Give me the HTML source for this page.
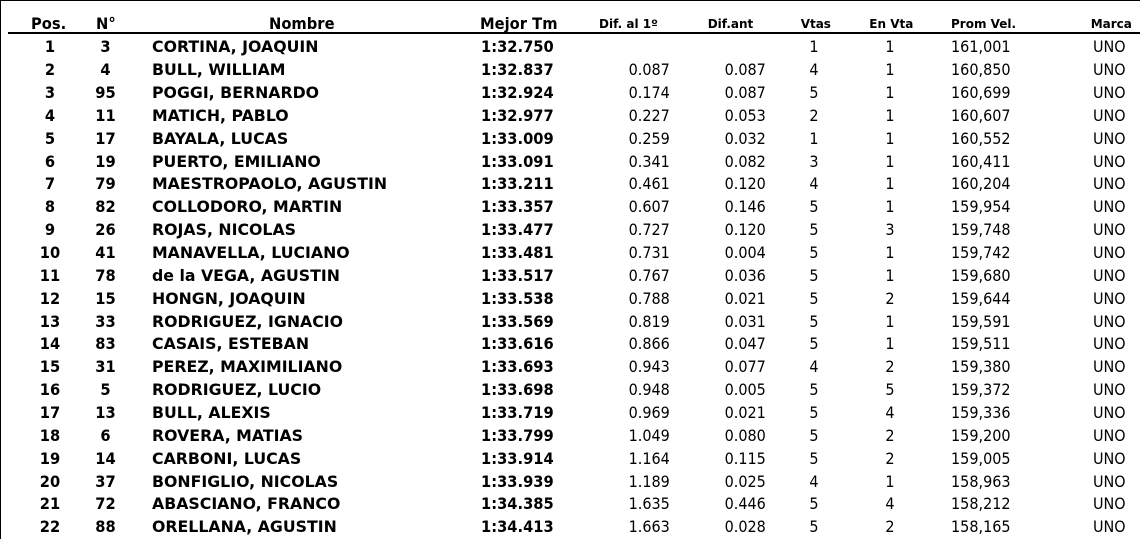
<!DOCTYPE html>
<html><head><meta charset="utf-8">
<style>
html,body{margin:0;padding:0;background:#fff;}
body{width:1140px;height:539px;position:relative;overflow:hidden;font-family:"DejaVu Sans","Liberation Sans",sans-serif;color:#000;}
.bl{position:absolute;left:0;top:0;width:1px;height:539px;background:#000;}
.bt{position:absolute;left:0;top:0;width:1140px;height:1px;background:#000;}
.hl{position:absolute;left:8px;top:32px;width:1132px;height:2px;background:#000;}
.h{position:absolute;font-weight:bold;white-space:nowrap;line-height:20px;transform-origin:left center;}
.h1{font-size:16px;top:14px;transform:scaleX(.92);}
.h2{font-size:12px;top:13.6px;}
.r{position:absolute;left:0;width:1140px;height:22.857px;line-height:22.857px;font-size:16px;}
.r span{position:absolute;top:0;white-space:nowrap;transform:scaleX(.9);transform-origin:left center;}
.r .p,.r .n,.r .nm,.r .t{font-weight:bold;}
.r .p{left:20px;width:60px;text-align:center;transform:scaleX(.917);transform-origin:center center;}
.r .n{left:80px;width:51px;text-align:center;transform:scaleX(.917);transform-origin:center center;}
.r .nm{left:152px;transform:scaleX(.985);}
.r .t{left:481px;transform:scaleX(.917);}
.r .d1{right:470.5px;transform-origin:right center;}
.r .d2{right:374px;transform-origin:right center;}
.r .v{left:789px;width:50px;text-align:center;transform-origin:center center;}
.r .e{left:865px;width:50px;text-align:center;transform-origin:center center;}
.r .pv{left:951px;}
.r .m{left:1092.7px;}
</style></head><body>
<div class="bt"></div><div class="bl"></div><div class="hl"></div>
<div class="h h1" style="left:31px">Pos.</div>
<div class="h h1" style="left:95.7px">N°</div>
<div class="h h1" style="left:269.3px">Nombre</div>
<div class="h h1" style="left:480px">Mejor Tm</div>
<div class="h h2" style="left:599px">Dif. al 1º</div>
<div class="h h2" style="left:707.7px">Dif.ant</div>
<div class="h h2" style="left:800.7px">Vtas</div>
<div class="h h2" style="left:869.3px">En Vta</div>
<div class="h h2" style="left:951px">Prom Vel.</div>
<div class="h h2" style="left:1090.7px">Marca</div>

<div class="r" style="top:36.33px"><span class="p">1</span><span class="n">3</span><span class="nm">CORTINA, JOAQUIN</span><span class="t">1:32.750</span><span class="v">1</span><span class="e">1</span><span class="pv">161,001</span><span class="m">UNO</span></div>
<div class="r" style="top:59.19px"><span class="p">2</span><span class="n">4</span><span class="nm">BULL, WILLIAM</span><span class="t">1:32.837</span><span class="d1">0.087</span><span class="d2">0.087</span><span class="v">4</span><span class="e">1</span><span class="pv">160,850</span><span class="m">UNO</span></div>
<div class="r" style="top:82.04px"><span class="p">3</span><span class="n">95</span><span class="nm">POGGI, BERNARDO</span><span class="t">1:32.924</span><span class="d1">0.174</span><span class="d2">0.087</span><span class="v">5</span><span class="e">1</span><span class="pv">160,699</span><span class="m">UNO</span></div>
<div class="r" style="top:104.9px"><span class="p">4</span><span class="n">11</span><span class="nm">MATICH, PABLO</span><span class="t">1:32.977</span><span class="d1">0.227</span><span class="d2">0.053</span><span class="v">2</span><span class="e">1</span><span class="pv">160,607</span><span class="m">UNO</span></div>
<div class="r" style="top:127.76px"><span class="p">5</span><span class="n">17</span><span class="nm">BAYALA, LUCAS</span><span class="t">1:33.009</span><span class="d1">0.259</span><span class="d2">0.032</span><span class="v">1</span><span class="e">1</span><span class="pv">160,552</span><span class="m">UNO</span></div>
<div class="r" style="top:150.62px"><span class="p">6</span><span class="n">19</span><span class="nm">PUERTO, EMILIANO</span><span class="t">1:33.091</span><span class="d1">0.341</span><span class="d2">0.082</span><span class="v">3</span><span class="e">1</span><span class="pv">160,411</span><span class="m">UNO</span></div>
<div class="r" style="top:173.47px"><span class="p">7</span><span class="n">79</span><span class="nm">MAESTROPAOLO, AGUSTIN</span><span class="t">1:33.211</span><span class="d1">0.461</span><span class="d2">0.120</span><span class="v">4</span><span class="e">1</span><span class="pv">160,204</span><span class="m">UNO</span></div>
<div class="r" style="top:196.33px"><span class="p">8</span><span class="n">82</span><span class="nm">COLLODORO, MARTIN</span><span class="t">1:33.357</span><span class="d1">0.607</span><span class="d2">0.146</span><span class="v">5</span><span class="e">1</span><span class="pv">159,954</span><span class="m">UNO</span></div>
<div class="r" style="top:219.19px"><span class="p">9</span><span class="n">26</span><span class="nm">ROJAS, NICOLAS</span><span class="t">1:33.477</span><span class="d1">0.727</span><span class="d2">0.120</span><span class="v">5</span><span class="e">3</span><span class="pv">159,748</span><span class="m">UNO</span></div>
<div class="r" style="top:242.04px"><span class="p">10</span><span class="n">41</span><span class="nm">MANAVELLA, LUCIANO</span><span class="t">1:33.481</span><span class="d1">0.731</span><span class="d2">0.004</span><span class="v">5</span><span class="e">1</span><span class="pv">159,742</span><span class="m">UNO</span></div>
<div class="r" style="top:264.9px"><span class="p">11</span><span class="n">78</span><span class="nm">de la VEGA, AGUSTIN</span><span class="t">1:33.517</span><span class="d1">0.767</span><span class="d2">0.036</span><span class="v">5</span><span class="e">1</span><span class="pv">159,680</span><span class="m">UNO</span></div>
<div class="r" style="top:287.76px"><span class="p">12</span><span class="n">15</span><span class="nm">HONGN, JOAQUIN</span><span class="t">1:33.538</span><span class="d1">0.788</span><span class="d2">0.021</span><span class="v">5</span><span class="e">2</span><span class="pv">159,644</span><span class="m">UNO</span></div>
<div class="r" style="top:310.61px"><span class="p">13</span><span class="n">33</span><span class="nm">RODRIGUEZ, IGNACIO</span><span class="t">1:33.569</span><span class="d1">0.819</span><span class="d2">0.031</span><span class="v">5</span><span class="e">1</span><span class="pv">159,591</span><span class="m">UNO</span></div>
<div class="r" style="top:333.47px"><span class="p">14</span><span class="n">83</span><span class="nm">CASAIS, ESTEBAN</span><span class="t">1:33.616</span><span class="d1">0.866</span><span class="d2">0.047</span><span class="v">5</span><span class="e">1</span><span class="pv">159,511</span><span class="m">UNO</span></div>
<div class="r" style="top:356.33px"><span class="p">15</span><span class="n">31</span><span class="nm">PEREZ, MAXIMILIANO</span><span class="t">1:33.693</span><span class="d1">0.943</span><span class="d2">0.077</span><span class="v">4</span><span class="e">2</span><span class="pv">159,380</span><span class="m">UNO</span></div>
<div class="r" style="top:379.19px"><span class="p">16</span><span class="n">5</span><span class="nm">RODRIGUEZ, LUCIO</span><span class="t">1:33.698</span><span class="d1">0.948</span><span class="d2">0.005</span><span class="v">5</span><span class="e">5</span><span class="pv">159,372</span><span class="m">UNO</span></div>
<div class="r" style="top:402.04px"><span class="p">17</span><span class="n">13</span><span class="nm">BULL, ALEXIS</span><span class="t">1:33.719</span><span class="d1">0.969</span><span class="d2">0.021</span><span class="v">5</span><span class="e">4</span><span class="pv">159,336</span><span class="m">UNO</span></div>
<div class="r" style="top:424.9px"><span class="p">18</span><span class="n">6</span><span class="nm">ROVERA, MATIAS</span><span class="t">1:33.799</span><span class="d1">1.049</span><span class="d2">0.080</span><span class="v">5</span><span class="e">2</span><span class="pv">159,200</span><span class="m">UNO</span></div>
<div class="r" style="top:447.76px"><span class="p">19</span><span class="n">14</span><span class="nm">CARBONI, LUCAS</span><span class="t">1:33.914</span><span class="d1">1.164</span><span class="d2">0.115</span><span class="v">5</span><span class="e">2</span><span class="pv">159,005</span><span class="m">UNO</span></div>
<div class="r" style="top:470.61px"><span class="p">20</span><span class="n">37</span><span class="nm">BONFIGLIO, NICOLAS</span><span class="t">1:33.939</span><span class="d1">1.189</span><span class="d2">0.025</span><span class="v">4</span><span class="e">1</span><span class="pv">158,963</span><span class="m">UNO</span></div>
<div class="r" style="top:493.47px"><span class="p">21</span><span class="n">72</span><span class="nm">ABASCIANO, FRANCO</span><span class="t">1:34.385</span><span class="d1">1.635</span><span class="d2">0.446</span><span class="v">5</span><span class="e">4</span><span class="pv">158,212</span><span class="m">UNO</span></div>
<div class="r" style="top:516.33px"><span class="p">22</span><span class="n">88</span><span class="nm">ORELLANA, AGUSTIN</span><span class="t">1:34.413</span><span class="d1">1.663</span><span class="d2">0.028</span><span class="v">5</span><span class="e">2</span><span class="pv">158,165</span><span class="m">UNO</span></div>
</body></html>
